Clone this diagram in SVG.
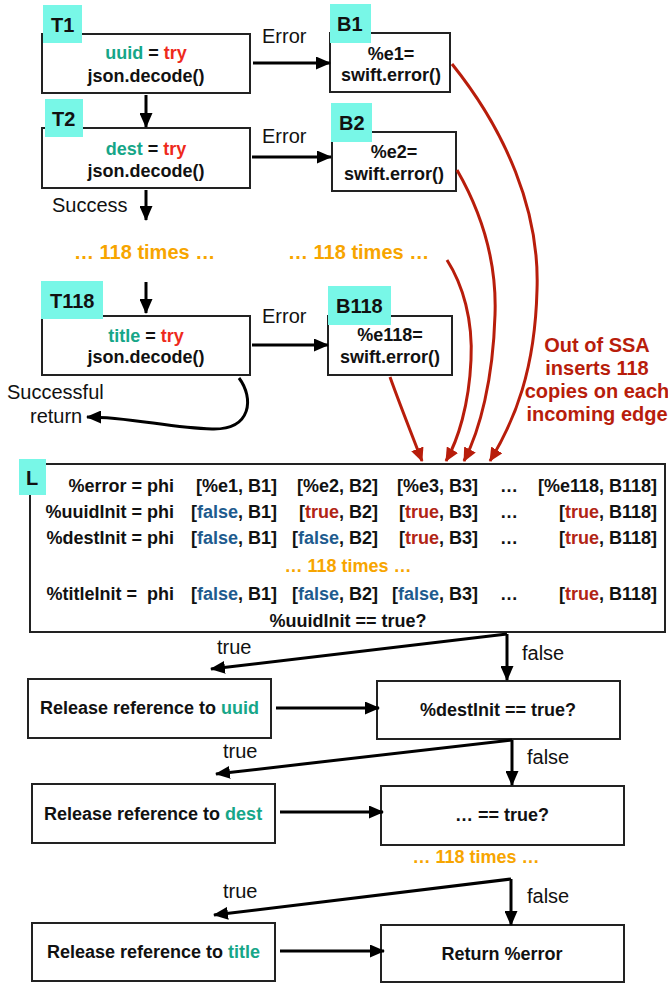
<svg xmlns="http://www.w3.org/2000/svg" width="668" height="983" viewBox="0 0 668 983">
<style>
text{font-family:"Liberation Sans",Arial,Helvetica,sans-serif;fill:#111}
.b{font-weight:bold;font-size:18px}
.r{font-size:20px}
.tag{fill:#78F7E7}
.tagt{font-weight:bold;font-size:20px}
.box{fill:#fff;stroke:#222;stroke-width:2}
.c{text-anchor:middle}
.e{text-anchor:end}
.g{fill:#16A688}
.t{fill:#EE2A1C}
.o{fill:#F7A500;font-weight:bold}
.f{fill:#1E5B8E}
.tr{fill:#B12414}
.ar{fill:none;stroke:#000;stroke-width:3}
.rd{fill:none;stroke:#B81D0B;stroke-width:3}
.ssa{fill:#B81D0B;font-weight:bold;font-size:20px;text-anchor:middle}
</style>
<defs>
<marker id="ah" markerUnits="userSpaceOnUse" markerWidth="15" markerHeight="13" refX="14" refY="6.5" orient="auto"><path d="M0,0 L15,6.5 L0,13 z" fill="#000"/></marker>
<marker id="rh" markerUnits="userSpaceOnUse" markerWidth="14" markerHeight="13" refX="13" refY="6.5" orient="auto"><path d="M0,0 L14,6.5 L0,13 z" fill="#B81D0B"/></marker>
</defs>

<g id="T1">
<rect class="box" x="42" y="34" width="208" height="59"/>
<rect class="tag" x="43" y="5" width="39" height="38"/>
<text class="tagt" x="51" y="32">T1</text>
<text class="b c" x="146" y="59"><tspan class="g">uuid</tspan> = <tspan class="t">try</tspan></text>
<text class="b c" x="146" y="82">json.decode()</text>
</g>
<g id="B1">
<rect class="box" x="330" y="33" width="120" height="59"/>
<rect class="tag" x="330" y="4" width="41" height="39"/>
<text class="tagt" x="337" y="31">B1</text>
<text class="b c" x="391" y="60">%e1=</text>
<text class="b c" x="391" y="81">swift.error()</text>
</g>
<g id="T2">
<rect class="box" x="42" y="128" width="208" height="60"/>
<rect class="tag" x="45" y="99" width="38" height="38"/>
<text class="tagt" x="52" y="126">T2</text>
<text class="b c" x="146" y="155"><tspan class="g">dest</tspan> = <tspan class="t">try</tspan></text>
<text class="b c" x="146" y="177">json.decode()</text>
</g>
<g id="B2">
<rect class="box" x="332" y="132" width="124" height="59"/>
<rect class="tag" x="331" y="103" width="41" height="39"/>
<text class="tagt" x="339" y="130">B2</text>
<text class="b c" x="394" y="158">%e2=</text>
<text class="b c" x="394" y="180">swift.error()</text>
</g>
<g id="T118">
<rect class="box" x="42" y="316" width="208" height="59"/>
<rect class="tag" x="41" y="281" width="62" height="38"/>
<text class="tagt" x="50" y="308">T118</text>
<text class="b c" x="146" y="342"><tspan class="g">title</tspan> = <tspan class="t">try</tspan></text>
<text class="b c" x="146" y="363">json.decode()</text>
</g>
<g id="B118">
<rect class="box" x="328" y="316" width="124" height="59"/>
<rect class="tag" x="328" y="286" width="63" height="39"/>
<text class="tagt" x="336" y="313">B118</text>
<text class="b c" x="390" y="341">%e118=</text>
<text class="b c" x="390" y="363">swift.error()</text>
</g>

<g id="labels-top">
<text class="r" x="262" y="43">Error</text>
<text class="r" x="262" y="143">Error</text>
<text class="r" x="262" y="323">Error</text>
<text class="r" x="52" y="212">Success</text>
<text class="o" style="font-size:20px" x="74" y="259">… 118 times …</text>
<text class="o" style="font-size:20px" x="288" y="259">… 118 times …</text>
<text class="r" x="7" y="399">Successful</text>
<text class="r" x="30" y="423">return</text>
<text class="ssa" x="597" y="352">Out of SSA</text>
<text class="ssa" x="597" y="375">inserts 118</text>
<text class="ssa" x="597" y="398">copies on each</text>
<text class="ssa" x="597" y="421">incoming edge</text>
</g>

<g id="L">
<rect class="box" x="30" y="464" width="635" height="168"/>
<rect class="tag" x="19" y="459" width="27" height="36"/>
<text class="tagt" x="26" y="485">L</text>
<text class="b e" x="174" y="492">%error = phi</text>
<text class="b e" x="277" y="492">[%e1, B1]</text>
<text class="b e" x="378" y="492">[%e2, B2]</text>
<text class="b e" x="478" y="492">[%e3, B3]</text>
<text class="b c" x="509" y="492">…</text>
<text class="b e" x="657" y="492">[%e118, B118]</text>

<text class="b e" x="174" y="518">%uuidInit = phi</text>
<text class="b e" x="277" y="518">[<tspan class="f">false</tspan>, B1]</text>
<text class="b e" x="378" y="518">[<tspan class="tr">true</tspan>, B2]</text>
<text class="b e" x="478" y="518">[<tspan class="tr">true</tspan>, B3]</text>
<text class="b c" x="509" y="518">…</text>
<text class="b e" x="657" y="518">[<tspan class="tr">true</tspan>, B118]</text>

<text class="b e" x="174" y="544">%destInit = phi</text>
<text class="b e" x="277" y="544">[<tspan class="f">false</tspan>, B1]</text>
<text class="b e" x="378" y="544">[<tspan class="f">false</tspan>, B2]</text>
<text class="b e" x="478" y="544">[<tspan class="tr">true</tspan>, B3]</text>
<text class="b c" x="509" y="544">…</text>
<text class="b e" x="657" y="544">[<tspan class="tr">true</tspan>, B118]</text>

<text class="o c" style="font-size:18px" x="348" y="572">… 118 times …</text>

<text class="b e" x="174" y="600" style="white-space:pre">%titleInit =  phi</text>
<text class="b e" x="277" y="600">[<tspan class="f">false</tspan>, B1]</text>
<text class="b e" x="378" y="600">[<tspan class="f">false</tspan>, B2]</text>
<text class="b e" x="478" y="600">[<tspan class="f">false</tspan>, B3]</text>
<text class="b c" x="509" y="600">…</text>
<text class="b e" x="657" y="600">[<tspan class="tr">true</tspan>, B118]</text>

<text class="b c" x="348" y="627">%uuidInit == true?</text>
</g>

<g id="RelUuid">
<rect class="box" x="28" y="679" width="243" height="59"/>
<text class="b" x="40" y="714">Release reference to <tspan class="g">uuid</tspan></text>
</g>
<g id="DestCheck">
<rect class="box" x="377" y="681" width="243" height="58"/>
<text class="b c" x="498" y="716">%destInit == true?</text>
</g>
<g id="RelDest">
<rect class="box" x="32" y="784" width="243" height="59"/>
<text class="b" x="44" y="820">Release reference to <tspan class="g">dest</tspan></text>
</g>
<g id="DotsCheck">
<rect class="box" x="381" y="786" width="243" height="59"/>
<text class="b c" x="502" y="821">… == true?</text>
</g>
<g id="RelTitle">
<rect class="box" x="32" y="923" width="243" height="58"/>
<text class="b" x="47" y="958">Release reference to <tspan class="g">title</tspan></text>
</g>
<g id="Return">
<rect class="box" x="381" y="925" width="243" height="57"/>
<text class="b c" x="502" y="960">Return %error</text>
</g>

<g id="labels-bottom">
<text class="r" x="217" y="654">true</text>
<text class="r" x="522" y="660">false</text>
<text class="r" x="223" y="758">true</text>
<text class="r" x="527" y="764">false</text>
<text class="o c" style="font-size:18px" x="476" y="863">… 118 times …</text>
<text class="r" x="223" y="898">true</text>
<text class="r" x="527" y="903">false</text>
</g>

<g id="connectors">
<path class="ar" d="M146,95 V127" marker-end="url(#ah)"/>
<path class="ar" d="M146,190 V220" marker-end="url(#ah)"/>
<path class="ar" d="M146,282 V313" marker-end="url(#ah)"/>
<path class="ar" d="M253,63 H330" marker-end="url(#ah)"/>
<path class="ar" d="M252,157 H331" marker-end="url(#ah)"/>
<path class="ar" d="M252,345 H328" marker-end="url(#ah)"/>
<path class="ar" d="M239,378 C254,398 252,430 212,429 C170,428 130,417 87,417" marker-end="url(#ah)"/>

<path class="rd" d="M452,64 C505,130 540,210 537,290 C535,370 515,420 490,461" marker-end="url(#rh)"/>
<path class="rd" d="M457,170 C480,210 497,260 495,315 C493,380 480,430 464,461" marker-end="url(#rh)"/>
<path class="rd" d="M447,260 C463,285 473,320 471,360 C469,405 458,440 446,461" marker-end="url(#rh)"/>
<path class="rd" d="M390,377 C400,405 412,435 422,461" marker-end="url(#rh)"/>

<path class="ar" d="M507,634 L211,669" marker-end="url(#ah)"/>
<path class="ar" d="M507,634 V680" marker-end="url(#ah)"/>
<path class="ar" d="M276,708 H379" marker-end="url(#ah)"/>
<path class="ar" d="M512,740 L216,774" marker-end="url(#ah)"/>
<path class="ar" d="M512,740 V785" marker-end="url(#ah)"/>
<path class="ar" d="M280,812 H383" marker-end="url(#ah)"/>
<path class="ar" d="M511,879 L214,915" marker-end="url(#ah)"/>
<path class="ar" d="M511,879 V925" marker-end="url(#ah)"/>
<path class="ar" d="M280,951 H384" marker-end="url(#ah)"/>
</g>
</svg>
